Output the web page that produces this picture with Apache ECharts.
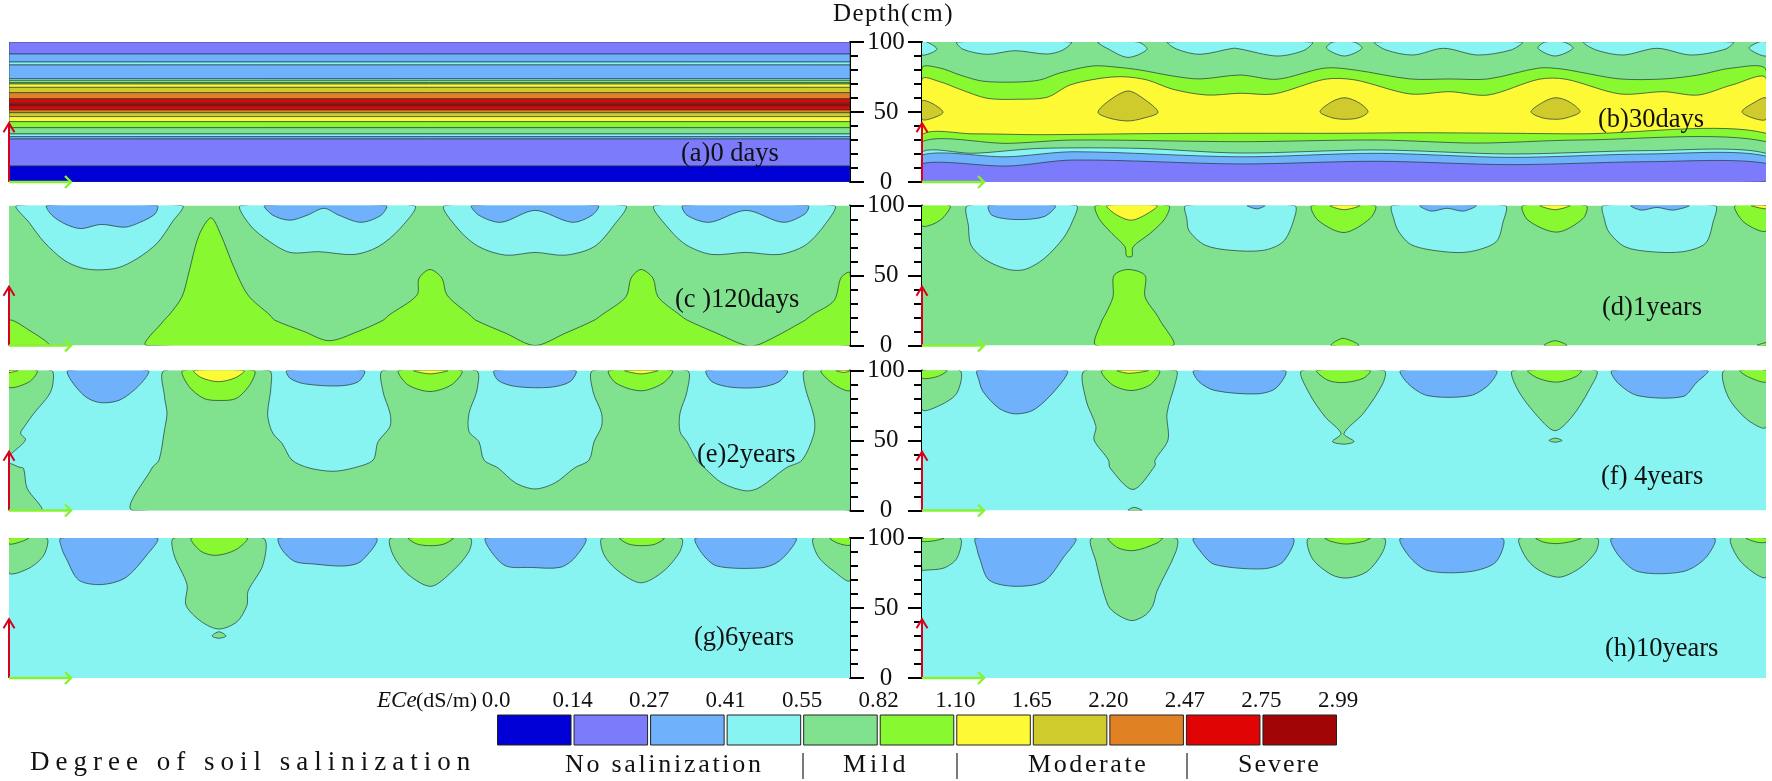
<!DOCTYPE html>
<html><head><meta charset="utf-8">
<style>html,body{margin:0;padding:0;background:#fff}#c{width:1772px;height:781px}</style>
<script src="https://cdn.jsdelivr.net/npm/echarts@6/dist/echarts.min.js"></script>
</head><body><div id="c"></div>
<script>
// Level colours, from lowest to highest ECe class
const levelColors=['#0000d6','#7b7bfb','#6fb1fb','#88f4f2','#80e28e','#88f830','#fdf935','#cfcb2c','#e08224','#e00404','#a00404'];
const ecLabels=['0.0','0.14','0.27','0.41','0.55','0.82','1.10','1.65','2.20','2.47','2.75','2.99'];
const depthTicks=[0,50,100];
// Panel (a): horizontal layers [upper depth, lower depth, level]
const bandsA=[[100,91.4,1],[91.4,85.7,2],[85.7,83.6,3],[83.6,73.8,2],[73.8,72.6,3],[72.6,71,4],[71,70,5],[70,67.6,6],[67.6,63.8,7],[63.8,59.5,8],[59.5,56.2,9],[56.2,54.3,10],[54.3,51.4,9],[51.4,49.5,8],[49.5,46.7,7],[46.7,43.1,6],[43.1,38.8,5],[38.8,34.3,4],[34.3,32.4,3],[32.4,30.7,2],[30.7,11.4,1],[11.4,0,0]];
// Contour regions: [level, [[distance, depth], ...]]
const panelB=[
[4,[[0,0],[844,0],[844,100],[0,100]]],
[3,[[5,100],[15,94.8],[0,90.7],[0,100]]],
[3,[[35,100],[41,94.8],[65,91.2],[93,93.8],[125,91.4],[141,94.3],[149,100]]],
[3,[[176,100],[185,95.5],[206,89],[225,94.8],[216,100]]],
[3,[[246,100],[255,94.8],[278,91.2],[311,95.5],[318,95],[355,90],[382,94],[390,100]]],
[3,[[411,100],[404.5,95.5],[422.5,90],[440,95.5],[432,100]]],
[3,[[453,100],[464,94.3],[491,90.7],[521.6,95.5],[555.5,90.7],[589,94.3],[600,100]]],
[3,[[623,100],[616,95.5],[633,90],[651,95.5],[642,100]]],
[3,[[662,100],[674,94.3],[701,90.7],[735,95.5],[769,90.7],[803,94.8],[811,100]]],
[3,[[837,100],[827,95.5],[844,90],[844,100]]],
[5,[[0,81.4],[18,81.4],[38,76.4],[61,72],[95,71.4],[118,72.9],[138,77.9],[171,82.9],[195,82],[218,80],[251,75.7],[278,73.6],[318,76.4],[355,73.4],[403,81.4],[433,80],[488,73.6],[528,73.6],[566,73.6],[617,81.4],[640,80.7],[657,78.6],[698,73.6],[742,73.6],[776,76.4],[810,81.4],[844,80],[844,0],[0,0]]],
[6,[[0,73.4],[18,71.6],[38,66.2],[65,59.8],[95,59.1],[125,60.5],[148,69.3],[178,74],[201,75.2],[225,72.9],[251,66.2],[285,62.1],[318,63.4],[352,62.9],[403,73.4],[433,72.9],[488,62.9],[528,64.5],[566,62.1],[617,73.4],[644,73.4],[698,62.9],[742,64.5],[776,62.1],[810,69.3],[844,74],[844,0],[0,0]]],
[7,[[0,57.9],[10,56.2],[21,49.8],[10,45.5],[0,44.8]]],
[7,[[176,49.8],[188,58.6],[206,65],[221,59.8],[236,49.8],[221,45.5],[206,43.6],[188,45.5]]],
[7,[[398,50.2],[410,57.4],[423,60.2],[437,56.6],[446,50.2],[437,45.9],[423,44.8],[410,45.9]]],
[7,[[609,50.2],[622,57.4],[634,60.2],[647,57.4],[658,50.2],[645,45.9],[634,44.8],[620,45.9]]],
[7,[[820,50.2],[830,55.9],[844,60],[844,44.8],[830,45.9]]],
[5,[[0,33.6],[51,34.4],[118,33.8],[218,34.5],[318,34.8],[420,34.8],[488,35.2],[589,34.8],[657,34.4],[844,34.8],[844,0],[0,0]]],
[4,[[0,28.8],[85,27.6],[151,30],[318,28.8],[454,30],[555,27.8],[657,30],[844,28.8],[844,0],[0,0]]],
[3,[[0,21.6],[51,20.5],[118,24],[218,24],[318,20.7],[454,22.9],[589,20],[725,22.4],[844,20.5],[844,0],[0,0]]],
[2,[[0,19.3],[85,18],[151,21.6],[318,18],[454,20.5],[589,17.6],[725,20],[844,18.5],[844,0],[0,0]]],
[1,[[0,13.3],[85,11.4],[151,15.7],[318,12.9],[454,14.8],[589,12.4],[725,14.5],[844,13.3],[844,0],[0,0]]]
];
const panelC=[
[4,[[0,0],[841,0],[841,100],[0,100]]],
[3,[[8,100],[20,88],[35,74],[55,61],[72,55.5],[89,54],[109,55.5],[128,62],[148,73],[163,88],[173,100]]],
[2,[[38,100],[43,93],[57,86.5],[72,83.5],[92,86.5],[116,84.5],[131,88],[146,94],[148,100]]],
[3,[[232,100],[241,86],[259,75],[281,66.5],[310,67],[345,65],[369,70.5],[391,83.5],[405,100]]],
[2,[[256,100],[264,93],[281,89.5],[298,93],[315,98],[330,93],[352,88],[372,93],[377,100]]],
[3,[[436,100],[450,82.5],[470,70.5],[497,64.5],[526,66.5],[556,64.5],[585,70.5],[605,86],[616,100]]],
[2,[[463,100],[470,93],[492,88],[526,96.5],[563,88],[583,93],[589,100]]],
[3,[[646,100],[661,82.5],[678,71.5],[703,65],[737,66.5],[770,65],[796,71.5],[815.5,86],[825,100]]],
[2,[[674,100],[678,93],[700.5,88],[737,96.5],[774,88],[796,94],[799,100]]],
[5,[[0,18],[20,11],[40,0],[0,0]]],
[5,[[138,0],[155,18],[160,21.7],[173,34.8],[180,52.6],[190,78.8],[202,91.2],[212,78.8],[224,57.4],[239,36],[261,21.7],[266,18],[295,10],[320,3.4],[349,10],[374,18],[380,21.7],[408,36],[410,48],[421,54.3],[433,48],[438,36],[461,21.7],[467,18],[497,8.7],[526,0],[556,8.7],[585,18],[592.5,21.7],[617,34.8],[622,48],[632,54.3],[644,48],[649,34.8],[671,21.7],[678.5,18],[708,8.7],[737,0],[751,1],[796,18],[802.6,21.7],[825,32],[831.7,48],[838,52],[841,52],[841,0]]]
];
const panelD=[
[4,[[0,0],[844,0],[844,100],[0,100]]],
[5,[[0,100],[28,100],[22,92],[12,87],[0,85.5]]],
[3,[[46,100],[46.5,85],[49,71.7],[64,61],[86.5,54.3],[103,54.3],[122,62],[141,76.4],[150,88],[154,100]]],
[2,[[67,100],[70,93],[93,90],[122,92],[133,100]]],
[5,[[174,100],[177,90.7],[190,80],[203,70.5],[204.6,63.8],[210,63.8],[211,70.5],[228,80],[243,90.7],[246.5,100]]],
[6,[[185,100],[193,94],[209,89.5],[225,94],[235,100]]],
[3,[[264,100],[265,90],[267,82],[283,71.7],[309,68],[341.5,68],[361,74],[371,88],[372.4,100]]],
[2,[[325,100],[335,97.6],[343,100]]],
[5,[[390,100],[396,89.5],[422,80.7],[448,90.7],[453,100]]],
[6,[[408,100],[422,97],[438,100]]],
[3,[[470.5,100],[472,90],[477,81],[490,71.7],[522,67],[548,67],[574,74],[581,88],[583,100]]],
[2,[[498,100],[509,96],[525,98],[541.5,96],[554,100]]],
[5,[[601,100],[606,89.5],[635,81],[661,90.7],[664,100]]],
[6,[[618,100],[633,97],[648,100]]],
[3,[[681.5,100],[682.5,90],[687,81],[703,70.5],[729,67],[761,67],[783.5,73],[791,88],[793,100]]],
[2,[[709,100],[719,96.7],[735,98.6],[751,96.7],[767,100]]],
[5,[[813,100],[822,88],[844,81.7],[844,100]]],
[6,[[829,100],[844,97.6],[844,100]]],
[5,[[174,0],[180,18],[183,21.7],[191,34.8],[192,50],[206,54.3],[223,50],[223,34.8],[235,21.7],[238,18],[251,0]]],
[5,[[409,0],[421,5.1],[437,0]]],
[5,[[622,0],[633,3.4],[645,0]]],
[5,[[835,0],[844,2],[844,0]]]
];
const panelE=[
[3,[[0,0],[841,0],[841,100],[0,100]]],
[4,[[0,100],[42.5,100],[44,91],[40,82.6],[25,69.5],[15.5,60],[11.6,55.2],[16.5,50.5],[3,41],[0,39.8]]],
[5,[[0,100],[28,100],[20.5,92],[0,88]]],
[6,[[0,100],[9,100],[0,98.5]]],
[4,[[0,33],[10,31],[14.6,30],[18,16],[33,0],[0,0]]],
[2,[[59,100],[62,93],[77,81],[92,77],[111,79],[131,90],[139,100]]],
[4,[[124.5,0],[143,30.4],[150,36],[155.5,57.6],[158,69.5],[155.5,81.4],[155.5,100],[260,100],[262,88.6],[258.6,69.5],[261,60],[265,54],[273,48],[283,36],[300,30.4],[324,28],[344.5,30.4],[364,36],[369,49],[381,60],[381,69.5],[374,85],[374,100],[467,100],[468,86],[460,69.5],[460,56.4],[470,49],[475,36],[489,30.4],[506.5,19.7],[526,15.4],[546,19.7],[565.5,30.4],[580,36],[585,49],[592.5,60],[592.5,69.5],[584,85],[584,100],[678,100],[678,85],[671,69.5],[671,56.4],[678,49],[688,36],[695.6,30.4],[713,19.7],[737,14],[751,16.6],[777,30.4],[793,36],[805,55],[805,67],[796,88.6],[796,100],[841,100],[841,0]]],
[5,[[174,100],[180,88.6],[195,80],[209.5,78.6],[227,80],[241,90],[245,100]]],
[6,[[185,100],[192,95],[209.5,92],[227,95],[235,100]]],
[5,[[390,100],[398.5,90],[421,85],[443,90],[452.5,100]]],
[6,[[404.5,100],[421,97.6],[439,100]]],
[5,[[600,100],[607,91],[632,85.5],[654,91],[663,100]]],
[6,[[615.6,100],[632,97.6],[649,100]]],
[5,[[812,100],[825,90],[841,85.7],[841,100]]],
[6,[[827,100],[835,98.6],[841,100]]],
[2,[[278,100],[281,94.5],[295.5,90.5],[330,89],[349.4,92],[355,100]]],
[2,[[485.5,100],[489,93],[506.5,88.6],[541,88],[561,92],[566.5,100]]],
[2,[[697.6,100],[703,92],[722.6,88],[751,88],[770,92],[778,100]]]
];
const panelF=[
[3,[[0,0],[844,0],[844,100],[0,100]]],
[4,[[0,100],[38,100],[35,84],[19,75.5],[0,72]]],
[5,[[0,100],[25,100],[15.5,95.7],[0,94.5]]],
[2,[[55.5,100],[57,93],[61,85],[77,73],[93,69],[112,72],[135,87.4],[144.6,100]]],
[4,[[163,100],[164,79],[174,60],[172,50.5],[186.5,36],[188,30.4],[211,15],[233,32],[233,36],[246,50.5],[245,69.5],[254,93],[254,100]]],
[5,[[180,100],[190,90],[209,85.7],[228.5,90],[237,100]]],
[6,[[195,100],[207,98],[226.5,100]]],
[2,[[272,100],[277,92],[293,85.7],[335,83.3],[354,87.4],[363,100]]],
[4,[[380,100],[387,84],[403,67],[419,55],[410.5,49.3],[422,47.4],[432,49.3],[422,55],[441.5,69.5],[461,91],[462,100]]],
[5,[[395,100],[406,93],[422,91.4],[441.5,94.5],[448,100]]],
[2,[[479,100],[487,90],[506,82],[548,82],[567,90],[574,100]]],
[4,[[591,100],[596,86],[616,67],[633,57],[650,67],[667,86],[674,100]]],
[4,[[627,50],[633,51.7],[640,50],[633,48.8]]],
[5,[[606,100],[616,94.5],[635,91.7],[654,95.7],[659,100]]],
[2,[[690,100],[696,91],[716,82],[761,81.4],[774,91],[785.5,100]]],
[4,[[802,100],[806,81.4],[825.5,64.8],[844,59.5],[844,100]]],
[5,[[818,100],[825.5,95.7],[844,91.7],[844,100]]],
[4,[[206,0],[212,2.3],[220,0]]]
];
const panelG=[
[3,[[0,0],[841,0],[841,100],[0,100]]],
[4,[[0,100],[37.6,100],[35,88],[20.5,78.6],[0,75]]],
[5,[[0,100],[19.5,100],[10.6,97],[0,95.7]]],
[2,[[52,100],[53,92],[57,85.7],[69.6,70],[92,66.7],[116,71.4],[138,88],[148,100]]],
[4,[[165,100],[165,88],[178,66.7],[177,52],[192.5,40.2],[210,35],[228,40.2],[238,52],[239,62],[254,81],[254,100]]],
[5,[[182.5,100],[192,90.5],[207,87.6],[227,91.7],[238,100]]],
[4,[[203,30],[210,33],[217,30],[210,28.4]]],
[2,[[270,100],[273,91.7],[285.6,83.3],[305,81.4],[335,80],[352,83.3],[367,100]]],
[4,[[382,100],[384,88],[399,74],[422,65.5],[443,76],[460,90.5],[461,100]]],
[5,[[399.5,100],[408,95.7],[422,94.5],[435,95.7],[444,100]]],
[2,[[477,100],[482,90.5],[497,80],[521,79],[551,79],[565.5,85.7],[576,100]]],
[4,[[593.5,100],[595,88],[610,76],[632,68],[654,76],[671,90.5],[672,100]]],
[5,[[611,100],[619.5,95.7],[633,94.5],[646.5,95.7],[655,100]]],
[2,[[687,100],[693,89],[708,80],[751,78.6],[767,82],[780,90.5],[786.5,100]]],
[4,[[804.6,100],[809,87],[825,76.2],[841,69.5],[841,100]]],
[5,[[821,100],[828.5,96.4],[841,94.8],[841,100]]]
];
const panelH=[
[3,[[0,0],[844,0],[844,100],[0,100]]],
[4,[[0,100],[38,100],[35,85.7],[22,78.6],[3,77],[0,77]]],
[5,[[0,100],[22,100],[12,98],[0,97.6]]],
[2,[[54,100],[55,92],[57.5,85.7],[67,70],[93,65.5],[122,69],[141,85.7],[153,100]]],
[4,[[170,100],[174,83],[186,52],[196,45],[210,41],[223.5,45],[231,52],[235,62],[254,90.5],[254,100]]],
[5,[[186.5,100],[196,93],[212,91],[235,96.4],[240,100]]],
[2,[[272,100],[280,89],[293,81],[341,78],[361,83],[370.5,100]]],
[4,[[387,100],[390,85.7],[409,74],[425,71.4],[445,76],[461,90.5],[462,100]]],
[5,[[403,100],[409,97.6],[424,95.7],[441.5,97.6],[448,100]]],
[2,[[479,100],[487,87],[506,76.7],[548,76],[574,83],[580,100]]],
[4,[[598,100],[603,87],[616,77.4],[637,72],[658,78.6],[674,90.5],[675,100]]],
[5,[[614,100],[622,97],[635,96],[650,97.6],[659,100]]],
[2,[[690,100],[696,88],[716,76],[761,76],[783.5,85.7],[792,100]]],
[4,[[809,100],[816,85.7],[832,75],[844,72],[844,100]]],
[5,[[824,100],[835,97],[844,97],[844,100]]]
];
const panelA=bandsA.map(b=>[b[2],[[0,b[1]],[841,b[1]],[841,b[0]],[0,b[0]]]]);
const redArrowDepth=42, greenArrowLength=62;
const panelLabels=[
['(a)0 days',681,154],['(b)30days',1598,120],['(c )120days',675,300],['(d)1years',1602,308],
['(e)2years',697,455],['(f) 4years',1601,477],['(g)6years',694,638],['(h)10years',1605,649]];
const classLabels=[['No salinization',565],['Mild',843],['Moderate',1028],['Severe',1238]];
const classDividers=[803,957,1187];

// Wider tracking for the stretched lettering of the source figure
const TRACK={'Degree of soil salinization':'6px','No salinization':'2.7px','Mild':'4px','Moderate':'2.6px','Severe':'2px','Depth(cm)':'1.4px'};
const _ft=CanvasRenderingContext2D.prototype.fillText;
CanvasRenderingContext2D.prototype.fillText=function(t,x,y,m){this.letterSpacing=TRACK[t]||'0px';return m===undefined?_ft.call(this,t,x,y):_ft.call(this,t,x,y,m);};

const FONT='"Liberation Serif"';
const panels=[panelA,panelB,panelC,panelD,panelE,panelF,panelG,panelH];
const tops=[42,205.5,370.5,538];
const grids=[],xAxes=[],yAxes=[],series=[];
panels.forEach((panel,i)=>{
  const right=i%2===1, W=right?844:841;
  grids.push({left:right?922:9,width:W,top:tops[i>>1],height:140});
  xAxes.push({gridIndex:i,type:'value',min:0,max:W,show:false});
  yAxes.push({gridIndex:i,type:'value',min:0,max:100,interval:50,position:right?'left':'right',
    axisLine:{show:true,onZero:false,lineStyle:{color:'#000',width:2}},
    axisTick:{show:true,length:14,lineStyle:{color:'#000',width:2}},
    minorTick:{show:true,splitNumber:5,length:8,lineStyle:{color:'#000',width:2}},
    splitLine:{show:false},
    axisLabel:{show:right,align:'center',margin:36,fontFamily:FONT,fontSize:25,color:'#111',
      formatter:v=>depthTicks.includes(v)?String(v):''}});
  series.push({type:'custom',xAxisIndex:i,yAxisIndex:i,clip:true,silent:true,animation:false,z:2,
    data:panel.map((_,k)=>[k,k]),
    renderItem(p,api){
      const r=panel[p.dataIndex];
      const isBase=i>0&&p.dataIndex===0;
      return {type:'polygon',shape:{points:r[1].map(q=>api.coord(q)),smooth:(i===0||isBase)?0:0.3},
        style:{fill:levelColors[r[0]],stroke:isBase?null:'rgba(35,60,60,0.72)',lineWidth:i===0?0.9:1}};
    }});
  series.push({type:'custom',xAxisIndex:i,yAxisIndex:i,clip:false,silent:true,animation:false,z:5,
    data:[[0,0]],
    renderItem(p,api){
      const o=api.coord([0,0]),t=api.coord([0,redArrowDepth]),g=api.coord([greenArrowLength,0]);
      const red={stroke:'#d8001c',lineWidth:2,fill:null},green={stroke:'#86f232',lineWidth:2.4,fill:null};
      return {type:'group',children:[
        {type:'polyline',shape:{points:[o,t]},style:red},
        {type:'polyline',shape:{points:[[t[0]-5.5,t[1]+9],t,[t[0]+5.5,t[1]+9]]},style:red},
        {type:'polyline',shape:{points:[o,g]},style:green},
        {type:'polyline',shape:{points:[[g[0]-6,g[1]-6],g,[g[0]-6,g[1]+6]]},style:green}]};
    }});
});
// Legend strip on its own axis
const li=panels.length;
grids.push({left:496,width:842,top:715,height:30});
xAxes.push({gridIndex:li,type:'value',min:0,max:11,interval:1,position:'top',
  axisLine:{show:false},axisTick:{show:false},splitLine:{show:false},
  axisLabel:{show:true,margin:3,fontFamily:FONT,fontSize:23,color:'#111',formatter:v=>ecLabels[v]}});
yAxes.push({gridIndex:li,type:'value',min:0,max:1,show:false});
series.push({type:'custom',xAxisIndex:li,yAxisIndex:li,silent:true,animation:false,clip:false,
  data:levelColors.map((c,k)=>[k,k]),
  renderItem(p,api){
    const k=p.dataIndex,a=api.coord([k,1]),b=api.coord([k+1,0]);
    return {type:'rect',shape:{x:a[0]+1.5,y:a[1],width:b[0]-a[0]-3,height:b[1]-a[1]},
      style:{fill:levelColors[k],stroke:'#222',lineWidth:1}};
  }});
const txt=(text,x,y,size,extra)=>({type:'text',x,y,z:20,silent:true,style:Object.assign({text,font:`${size}px ${FONT}`,fill:'#111',textVerticalAlign:'middle'},extra||{})});
const graphic=[
  txt('Depth(cm)',833,14,25),
  txt('ECe',377,701,23,{font:`italic 23px ${FONT}`}),
  txt('(dS/m)',416,701,22),
  txt('Degree of soil salinization',30,763,27)
].concat(panelLabels.map(p=>txt(p[0],p[1],p[2],26.5)))
 .concat(classLabels.map(c=>txt(c[0],c[1],765,26)))
 .concat(classDividers.map(x=>({type:'line',z:20,silent:true,shape:{x1:x,y1:753,x2:x,y2:779},style:{stroke:'#222',lineWidth:1.2}})));
echarts.init(document.getElementById('c')).setOption({animation:false,backgroundColor:'#fff',grid:grids,xAxis:xAxes,yAxis:yAxes,series,graphic});
</script></body></html>
